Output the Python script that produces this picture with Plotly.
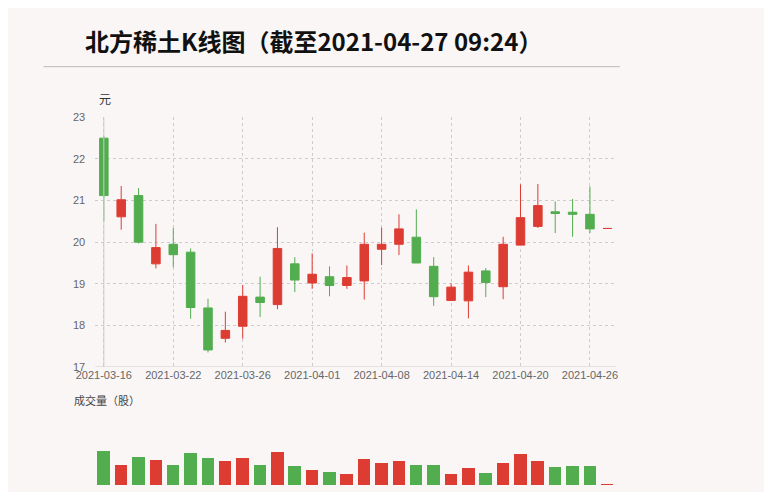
import plotly.graph_objects as go

dates = ["2021-03-16","2021-03-17","2021-03-18","2021-03-19","2021-03-22","2021-03-23","2021-03-24","2021-03-25","2021-03-26","2021-03-29",
         "2021-03-30","2021-03-31","2021-04-01","2021-04-02","2021-04-06","2021-04-07","2021-04-08","2021-04-09","2021-04-12","2021-04-13",
         "2021-04-14","2021-04-15","2021-04-16","2021-04-19","2021-04-20","2021-04-21","2021-04-22","2021-04-23","2021-04-26","2021-04-27"]
open_ = [22.50,20.61,21.12,19.48,19.95,19.76,18.42,17.69,17.98,18.68,18.50,19.48,19.02,19.17,18.96,19.07,19.83,19.95,20.12,19.42,
         18.60,18.59,19.31,18.93,19.93,20.38,20.73,20.72,20.67,20.33]
close = [21.12,21.02,20.00,19.87,19.70,18.43,17.41,17.88,18.70,18.55,19.85,19.09,19.23,18.96,19.15,19.95,19.95,20.32,19.50,18.69,
         18.92,19.28,19.03,19.95,20.59,20.88,20.69,20.67,20.32,20.33]
high = [22.55,21.35,21.30,20.44,20.34,19.85,18.64,18.33,18.97,19.17,20.36,19.64,19.73,19.42,19.44,20.23,20.35,20.67,20.79,19.64,
        19.01,19.44,19.38,20.13,21.39,21.40,20.98,21.04,21.34,20.33]
low = [20.50,20.30,19.97,19.37,19.40,18.16,17.35,17.59,17.68,18.20,18.39,18.80,18.88,18.70,18.88,18.62,19.45,19.69,19.50,18.47,
       18.60,18.17,18.68,18.63,19.93,20.34,20.22,20.13,20.22,20.33]
volume = [105,60,87,77,63,97,84,73,84,63,101,59,45,40,33,80,68,74,63,60,34,52,38,67,96,74,54,59,58,2]
tick_idx = [0,4,8,12,16,20,24,28]

RED, GREEN = "#dd3c33", "#52ad4f"
BG = "#faf6f6"
W, H = 756, 484
def px(X): return (X - 8) / W
def py(Y): return (H - (Y - 8)) / H

x = list(range(len(dates)))
vcolors = [RED if c >= o else GREEN for o, c in zip(open_, close)]

fig = go.Figure()
fig.add_trace(go.Candlestick(x=x, open=open_, high=high, low=low, close=close,
    increasing=dict(line=dict(color=RED, width=1), fillcolor=RED),
    decreasing=dict(line=dict(color=GREEN, width=1), fillcolor=GREEN),
    whiskerwidth=0, showlegend=False, hoverinfo="skip"))
fig.add_trace(go.Bar(x=x, y=volume, marker=dict(color=vcolors, line=dict(width=0)), width=0.72,
    xaxis="x2", yaxis="y2", showlegend=False, hoverinfo="skip"))

xdom = [px(78), px(613)]
grid = dict(showgrid=True, gridcolor="#cccccc", griddash="dot", gridwidth=1)
fig.update_layout(
    width=W, height=H, margin=dict(l=0, r=0, t=0, b=0),
    paper_bgcolor=BG, plot_bgcolor=BG,
    font=dict(family="Liberation Sans, Arial, sans-serif", color="#666666"),
    xaxis=dict(domain=xdom, range=[-0.5, 29.5], tickvals=tick_idx, ticktext=[dates[i] for i in tick_idx],
               rangeslider=dict(visible=False), tickfont=dict(size=11, color="#666"), ticks="", zeroline=False,
               anchor="y", **grid),
    yaxis=dict(domain=[py(370), py(114)], range=[17, 23], dtick=1, tickfont=dict(size=11, color="#666"),
               ticks="", zeroline=False, anchor="free", position=px(78), ticklabelstandoff=10, **grid),
    xaxis2=dict(domain=xdom, range=[-0.5, 29.5], visible=False, anchor="y2"),
    yaxis2=dict(domain=[py(491), py(450)], range=[0, 123], visible=False),
    bargap=0,
)
fig.add_shape(type="line", xref="x", yref="y", x0=0, x1=0, y0=17, y1=23, line=dict(color="#cccccc", width=1))
fig.add_shape(type="line", xref="x", yref="y", x0=-0.5, x1=29.5, y0=17, y1=17, line=dict(color="#cccccc", width=1))
fig.add_shape(type="line", xref="paper", yref="paper", x0=px(25), x1=px(617), y0=py(62), y1=py(62),
              line=dict(color="#bbbbbb", width=1))
fig.add_annotation(text="<b>北方稀土K线图（截至2021-04-27 09:24）</b>", xref="paper", yref="paper",
                   x=px(66), y=py(35), xanchor="left", yanchor="middle", showarrow=False,
                   font=dict(size=24, color="#111111", family="Noto Sans CJK SC"))
fig.add_annotation(text="元", xref="paper", yref="paper", x=px(80), y=py(95), xanchor="left", yanchor="middle",
                   showarrow=False, font=dict(size=12, color="#333", family="Noto Sans CJK SC"))
fig.add_annotation(text="成交量（股）", xref="paper", yref="paper", x=px(54), y=py(404), xanchor="left", yanchor="middle",
                   showarrow=False, font=dict(size=11, color="#444", family="Noto Sans CJK SC"))
fig.write_html("out.html")
